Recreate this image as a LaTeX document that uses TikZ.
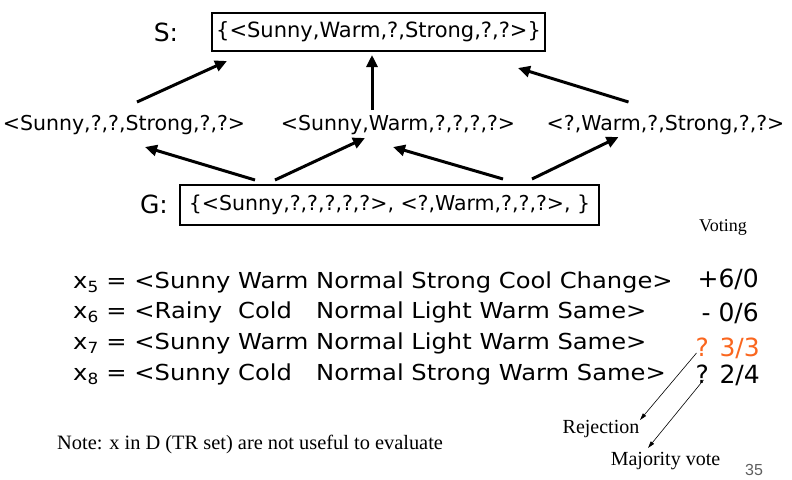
\documentclass[tikz,border=0pt]{standalone}
\usepackage{fontspec}
\usepackage{calc}
\setmainfont{DejaVu Sans}
\newfontfamily\wide{DejaVu Sans}[FakeStretch=1.1]
\newfontfamily\tms{Liberation Serif}
\newfontfamily\arl{Liberation Sans}
\usetikzlibrary{arrows.meta, calc}
\definecolor{voteorange}{RGB}{250,102,30}
\definecolor{pagegray}{RGB}{95,95,95}
\newcommand{\wslot}[2]{\makebox[\widthof{#1}][l]{#2}}

\begin{document}
\begin{tikzpicture}[x=1pt, y=-1pt,
    setbox/.style={draw, line width=1.6pt, inner sep=0pt, minimum height=38pt, font=\fontsize{21}{21}\selectfont},
    setlabel/.style={inner sep=0pt, font=\fontsize{25}{25}\selectfont},
    hyp/.style={inner sep=0pt, anchor=base, font=\fontsize{20.5}{20.5}\selectfont},
    row/.style={inner sep=0pt, anchor=base west, font=\wide\fontsize{22}{22}\selectfont},
    vote/.style={inner sep=0pt, anchor=base east, font=\fontsize{25}{25}\selectfont},
    remark/.style={inner sep=0pt, font=\tms\fontsize{20}{20}\selectfont},
    fatarrow/.style={line width=3pt, -{Triangle[length=12pt,width=11pt]}},
    thinarrow/.style={line width=0.6pt, -{Triangle[length=7pt,width=4pt]}}]
\useasboundingbox (0,0) rectangle (792,479);

% specific and general boundaries
\node[setbox, minimum width=333pt] (sbox) at (378.5,32) {\{<Sunny,Warm,?,Strong,?,?>\}};
\node[setlabel] (slabel) at (166,32) {S:};
\node[setbox, minimum width=419pt, minimum height=40pt, font=\fontsize{20.5}{20.5}\selectfont] (gbox) at (389.5,205) {\{<Sunny,?,?,?,?,?>, <?,Warm,?,?,?>, \}\hspace{12pt}};
\node[setlabel] (glabel) at (154,204) {G:};

% hypotheses in between
\node[hyp] (h1) at (124,130) {<Sunny,?,?,Strong,?,?>};
\node[hyp] (h2) at (398,130) {<Sunny,Warm,?,?,?,?>};
\node[hyp] (h3) at (665.5,130) {<?,Warm,?,Strong,?,?>};

% upward arrows
\draw[fatarrow] ($(h1.base)+(13,-28)$) -- ($(sbox)+(-151.5,29)$);
\draw[fatarrow] ($(h2.base)+(-26,-20)$) -- ($(sbox)+(-6.5,23)$);
\draw[fatarrow] ($(h3.base)+(-37,-28)$) -- ($(sbox)+(139.5,36)$);
\draw[fatarrow] ($(gbox)+(-134.5,-25)$) -- ($(h1.base)+(21,17)$);
\draw[fatarrow] ($(gbox)+(-114.5,-25)$) -- ($(h2.base)+(-33,8)$);
\draw[fatarrow] ($(gbox)+(113.5,-26)$) -- ($(h2.base)+(-5,17)$);
\draw[fatarrow] ($(gbox)+(142.5,-26)$) -- ($(h3.base)+(-47,7)$);

% new instances
\node[row] (x5) at (73,288) {x\textsubscript{5} = <Sunny Warm Normal Strong Cool Change>};
\node[row] (x6) at (73,318) {x\textsubscript{6} = <\wslot{Sunny}{Rainy} \wslot{Warm}{Cold} Normal Light Warm Same>};
\node[row] (x7) at (73,349) {x\textsubscript{7} = <Sunny Warm Normal Light Warm Same>};
\node[row] (x8) at (73,380) {x\textsubscript{8} = <Sunny \wslot{Warm}{Cold} Normal Strong Warm Same>};

% votes
\node[remark, font=\tms\fontsize{18}{18}\selectfont] (voting) at (723,227) {Voting};
\node[vote] (v5) at (759,287) {+6/0};
\node[vote] (v6) at (759,321) {- 0/6};
\node[vote, text=voteorange] (v7) at (760,356) {? 3/3};
\node[vote] (v8) at (760,383) {? 2/4};

\node[remark] (reject) at (601,429) {Rejection};
\node[remark] (major) at (665.5,461) {Majority vote};
\draw[thinarrow] ($(v7.base west)+(1,-3)$) -- ($(reject)+(39,-9)$);
\draw[thinarrow] ($(v8.base west)+(8,-3)$) -- ($(major)+(-17.5,-13)$);

\node[remark, anchor=west, font=\tms\fontsize{20.4}{20.4}\selectfont] (note) at (57,444) {Note: x in D (TR set) are not useful to evaluate};
\node[inner sep=0pt, text=pagegray, font=\arl\fontsize{16}{16}\selectfont] (page) at (754,470) {35};
\end{tikzpicture}
\end{document}
